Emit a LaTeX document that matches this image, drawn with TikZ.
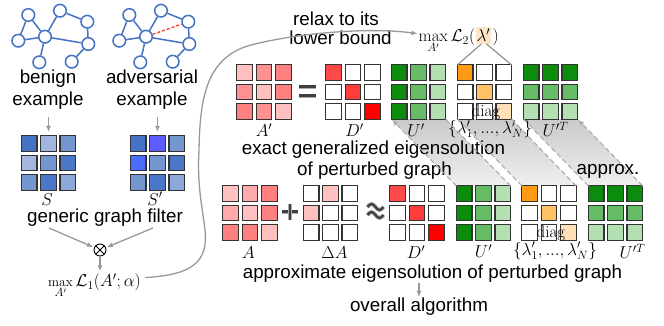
\documentclass[tikz,border=0pt]{standalone}
\usepackage{fontspec}
\newfontfamily\sansf{Liberation Sans}
\usetikzlibrary{arrows.meta,calc}
\definecolor{gblue}{HTML}{4472C4}
\definecolor{bD}{HTML}{4472C4}
\definecolor{bDD}{HTML}{4A77C7}
\definecolor{bL}{HTML}{A2B6E0}
\definecolor{bM}{HTML}{7496D1}
\definecolor{bLM}{HTML}{8DA9DA}
\definecolor{bV}{HTML}{5E5EFF}
\definecolor{bB}{HTML}{4A6CFF}
\definecolor{rL}{HTML}{FFC0C0}
\definecolor{rM}{HTML}{FF9090}
\definecolor{rD}{HTML}{FF8080}
\definecolor{rMM}{HTML}{FFAAAA}
\definecolor{dA}{HTML}{FF4848}
\definecolor{dB}{HTML}{FF3D3D}
\definecolor{dC}{HTML}{FF0000}
\definecolor{gD}{HTML}{0C8C0C}
\definecolor{gM}{HTML}{66BB66}
\definecolor{gL}{HTML}{B3DFB3}
\definecolor{oD}{HTML}{FF9A12}
\definecolor{oM}{HTML}{FFC266}
\definecolor{oL}{HTML}{FFE0B8}
\definecolor{lamb}{HTML}{FDE5C8}
\definecolor{redge}{HTML}{FF3B1F}
\newcommand{\mymat}[4]{%
  \node[matbox] (#1) at (#2,#3) {};
  \foreach \mC [count=\mK from 0] in {#4} {
    \pgfmathtruncatemacro{\mX}{mod(\mK,3)}
    \pgfmathtruncatemacro{\mY}{(\mK-\mX)/3}
    \draw[cellbox, fill=\mC] ($(#1.center)+(\mX*19.3-27.1, \mY*19.3-27.1)$) rectangle +(15.6,15.6);
  }
}
\begin{document}
\begin{tikzpicture}[x=1pt,y=-1pt,
  matbox/.style={minimum width=54.2pt, minimum height=54.2pt, inner sep=0pt, outer sep=0pt},
  cellbox/.style={draw=black!80, line width=1.1pt},
  txt/.style={font=\sansf\fontsize{18.8}{22}\selectfont, inner sep=0pt, anchor=base},
  mth/.style={font=\fontsize{17}{20}\selectfont, inner sep=0pt, anchor=base},
  gnode/.style={circle, draw=gblue, line width=1.5pt, fill=white, minimum size=12.6pt, inner sep=0pt},
  gedge/.style={draw=gblue, line width=1.5pt},
  garrow/.style={draw=gray!80, line width=1.3pt, -{Latex[length=6pt,width=5pt]}},
  gline/.style={draw=gray!85, line width=1.2pt},
  bandline/.style={draw=gray!65, line width=1.1pt, dash pattern=on 5pt off 3pt},
  sym/.style={draw=black!75, line width=2.2pt, preaction={draw=gray!65, line width=4pt}},
]
\fill[white] (0,0) rectangle (664,325);
\useasboundingbox (0,0) rectangle (664,325);

% ---------- projection bands ----------
\foreach \tx/\bx in {418.5/483.5, 484.5/549, 550.5/615.5} {
  \shade[top color=gray!42, bottom color=gray!12]
    (\tx-27.1,119.1) -- (\tx+27.1,119.1) -- (\bx+27.1,185.9) -- (\bx-27.1,185.9) -- cycle;
}

% ---------- graphs ----------
\foreach \n/\x/\y in {1/28.3/15,2/60/10.7,3/87.3/21.7,4/18.3/40.7,5/45/36.7,6/88.3/44,7/39.3/62.3,8/71.7/61.7} {
  \node[gnode] (g\n) at (\x,\y) {};
  \node[gnode] (h\n) at (\x+101,\y) {};
}
\foreach \a/\b in {1/5,1/4,4/5,5/2,2/3,3/6,5/6,5/7,6/8} {
  \draw[gedge] (g\a) -- (g\b);
  \draw[gedge] (h\a) -- (h\b);
}
\draw[draw=redge, line width=1.3pt, dash pattern=on 3pt off 2pt] (h5) -- (h3);

\node[txt] (ben1) at (48,83.3) {benign};
\node[txt] (ben2) at (48,105) {example};
\node[txt] (adv1) at (152,83.3) {adversarial};
\node[txt] (adv2) at (152,105) {example};

% ---------- filter matrices ----------
\mymat{Sm}{48.5}{163}{bD,bL,bM,bL,bM,bDD,bM,bDD,bLM}
\mymat{Sp}{157.5}{163}{bD,bV,bM,bB,bM,bDD,bM,bDD,bLM}
\draw[garrow, shorten <=8pt, shorten >=4pt] (ben2.south -| Sm.north) -- (Sm.north);
\draw[garrow, shorten <=8pt, shorten >=4pt] (adv2.south -| Sp.north) -- (Sp.north);
\node[mth] (lS) at (47,205) {$S$};
\node[mth] (lSp) at (155,205) {$S'$};
\node[txt] (ggf) at (105,222.7) {generic graph filter};

\node[circle, draw=black, line width=0.9pt, minimum size=12pt, inner sep=0pt,
  path picture={\draw[line width=0.9pt] (path picture bounding box.north west) -- (path picture bounding box.south east)
  (path picture bounding box.north east) -- (path picture bounding box.south west);}] (ot) at (100,250) {};
\coordinate (fa) at (49,228);
\coordinate (fb) at (153,228);
\draw[garrow, shorten >=1pt] (fa) -- (ot);
\draw[garrow, shorten >=1pt] (fb) -- (ot);
\node[mth, anchor=base west] (L1) at (48,286.5) {$\mathop{\hbox{\fontsize{13.5}{14}\selectfont max}}\limits_{A'}\mathcal{L}_1(A';\alpha)$};
\draw[garrow, shorten >=2pt] (ot.south) -- (ot.south |- L1.north);

% ---------- top row ----------
\node[txt] (rx1) at (336,25) {relax to its};
\node[txt] (rx2) at (340.5,44.3) {lower bound};
\node[mth, anchor=base west] (L2) at (418.5,41.7) {$\max\limits_{A'}\mathcal{L}_2($};
\node[mth, anchor=base west, fill=lamb, inner xsep=1pt, inner ysep=2pt] (lam) at (L2.base east) {$\lambda'$};
\node[mth, anchor=base west] (rp) at ([xshift=1pt]lam.base east) {$)$};
\draw[garrow] ([shift={(4,-9)}]L1.base east) .. controls (195,275) and (208,260) .. (205,230)
  .. controls (202,205) and (197,185) .. (199,150)
  .. controls (200,100) and (205,55) .. (255,44)
  .. controls (300,33) and (370,27) .. ([shift={(-1,-8)}]L2.base west);

\mymat{Ap}{264}{92}{rL,rM,rD,rM,rL,rD,rD,rM,rL}
\mymat{Dt}{353}{92}{dA,white,white,white,dB,white,white,white,dC}
\mymat{Ut}{418.5}{92}{gD,gM,gL,gD,gM,gL,gD,gM,gL}
\mymat{Lt}{484.5}{92}{oD,white,white,white,oM,white,white,white,oL}
\mymat{Tt}{550.5}{92}{gD,gD,gD,gM,gM,gM,gL,gL,gL}
\draw[gline] ([xshift=-2pt]lam.south) -- (Lt.north west);
\draw[gline] ([xshift=3pt]lam.south) -- (Lt.north east);

\draw[sym] (298.5,86.5) -- (315.5,86.5);
\draw[sym] (298.5,95.5) -- (315.5,95.5);

\node[mth] (lAp) at (264,136.5) {$A'$};
\node[mth] (lDt) at (354.5,136.5) {$D'$};
\node[mth] (lUt) at (416,136.5) {$U'$};
\node[mth] (dgT) at (486,116.5) {$\mathrm{diag}$};
\node[mth] (lsT) at (490,133.5) {$\{\lambda'_1,...,\lambda'_N\}$};
\node[mth] (lTt) at (555.5,136.5) {$U'^T$};
\node[txt] (ex1) at (373.5,154.3) {exact generalized eigensolution};
\node[txt] (ex2) at (374.5,175) {of perturbed graph};

% ---------- bottom row ----------
\mymat{Am}{250}{213}{rL,rMM,rD,rMM,rL,rD,rD,rD,rL}
\mymat{dAm}{330.5}{213}{white,rL,white,rL,white,white,white,white,white}
\mymat{Db}{417}{213}{dA,white,white,white,dB,white,white,white,dC}
\mymat{Ub}{483.5}{213}{gD,gM,gL,gD,gM,gL,gD,gM,gL}
\mymat{Lb}{549}{213}{oD,white,white,white,oM,white,white,white,oL}
\mymat{Tb}{615.5}{213}{gD,gD,gD,gM,gM,gM,gL,gL,gL}

\draw[sym] (282,211.5) -- (298,211.5);
\draw[sym] (290,203.5) -- (290,219.5);
\draw[sym] (367.5,207) sin (371.5,204) cos (375.5,207) sin (379.5,210) cos (383.5,207);
\draw[sym] (367.5,215) sin (371.5,212) cos (375.5,215) sin (379.5,218) cos (383.5,215);

% band edges
\draw[bandline, -{Latex[length=6pt,width=5pt]}, shorten >=1pt] (Ub.north west) -- (Ut.south west);
\draw[bandline] (Ub.north east) -- (Ut.south east);
\draw[bandline] (Lb.north west) -- (Lt.south west);
\draw[bandline] (Lb.north east) -- (Lt.south east);
\draw[bandline] (Tb.north west) -- (Tt.south west);
\draw[bandline, -{Latex[length=6pt,width=5pt]}, shorten >=1pt] (Tb.north east) -- (Tt.south east);
\node[txt] (apx) at (608,174) {approx.};

\node[mth] (lA) at (248.5,258.3) {$A$};
\node[mth] (ldA) at (334.5,258.3) {$\Delta A$};
\node[mth] (lDb) at (416,258.3) {$D'$};
\node[mth] (lUb) at (483.5,257.5) {$U'$};
\node[mth] (dgB) at (551,237.3) {$\mathrm{diag}$};
\node[mth] (lsB) at (555,255) {$\{\lambda'_1,...,\lambda'_N\}$};
\node[mth] (lTb) at (632.5,258.3) {$U'^T$};

\node[txt] (apr) at (432.5,278.3) {approximate eigensolution of perturbed graph};
\node[txt] (ova) at (419,311.7) {overall algorithm};
\draw[garrow, shorten <=1pt, shorten >=1pt] (ova.north |- apr.south) -- (ova.north);
\end{tikzpicture}
\end{document}
